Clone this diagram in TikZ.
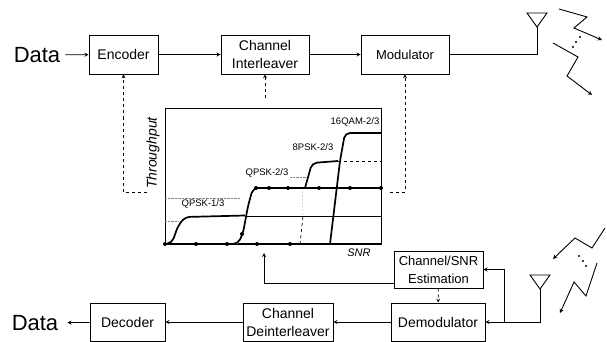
\documentclass[tikz,border=0pt]{standalone}
\usepackage{fontspec}
\setmainfont{Liberation Sans}
\usepackage{tikz}
\usetikzlibrary{arrows}

\begin{document}
\begin{tikzpicture}[
    x=1pt, y=-1pt,
    every node/.style={font=\fontsize{14}{18}\selectfont, inner sep=0pt},
    block/.style={draw, line width=0.9pt, align=center, minimum height=39pt},
    data/.style={font=\fontsize{22}{24}\selectfont},
    plotlabel/.style={font=\fontsize{9.5}{10}\selectfont},
    axislabel/.style={font=\fontsize{14}{14}\selectfont\itshape},
    arrow/.style={->, >=stealth, line width=0.8pt},
    feedback/.style={->, >=stealth, line width=0.7pt, dashed},
    antenna/.style={draw, line width=0.9pt},
    channel/.style={->, >=stealth, line width=0.9pt},
    grid line/.style={densely dotted, line width=0.4pt, gray},
    curve/.style={line width=1.7pt, rounded corners=5pt},
    mark dot/.style={circle, fill, minimum size=4pt},
]
\useasboundingbox (0,0) rectangle (607,342);
\node[data, inner xsep=5pt] (datain) at (37,55) {Data};
\node[block, minimum width=69pt] (encoder) at (123.5,54.5) {Encoder};
\node[block, minimum width=88pt] (interleaver) at (265,54.5) {Channel\\Interleaver};
\node[block, minimum width=88pt, font=\fontsize{13}{18}\selectfont] (modulator) at (405,54.5) {Modulator};
\node[block, minimum width=89pt, minimum height=37pt, font=\fontsize{13}{18}\selectfont] (estimation) at (438.5,269.5) {Channel/SNR\\Estimation};
\node[block, minimum width=94pt, minimum height=38pt] (demodulator) at (438,322) {Demodulator};
\node[block, minimum width=90pt, minimum height=38pt] (deinterleaver) at (288,322) {Channel\\Deinterleaver};
\node[block, minimum width=75pt, minimum height=38pt] (decoder) at (127.5,322) {Decoder};
\node[data, inner xsep=9pt] (dataout) at (35,323) {Data};
\node[draw, line width=0.8pt, minimum width=216pt, minimum height=136pt] (graph) at (273,176) {};
\node[axislabel, rotate=90] (throughput) at (153,153) {Throughput};
\node[axislabel, font=\fontsize{11}{14}\selectfont\itshape] (snr) at (359,253) {SNR};
\node[plotlabel] (qpska) at (203,204) {QPSK-1/3};
\node[plotlabel] (qpskb) at (267,173) {QPSK-2/3};
\node[plotlabel] (epsk) at (313,147) {8PSK-2/3};
\node[plotlabel] (qam) at (355,122) {16QAM-2/3};
% grid of the throughput plot
\draw[grid line] (165,198) -- (240,198);
\draw[grid line] (165,221) -- (178,221);
\draw[grid line] (290,177) -- (306,177);
\draw[grid line] (302,188) -- (303,216);
\draw[dashed, line width=0.5pt] (338,161) -- (381,161);
\draw[line width=0.7pt] (245,216) -- (381,216);
\draw[dashed, line width=0.7pt] (300,244) -- (303,216);
% throughput curves
\draw[curve] (165,244) -- (172,243) -- (178,226) -- (185,217) -- (245,215.5);
\draw[curve] (165,244) -- (238,244) -- (243,233) -- (248,206) -- (253,188) -- (381,188);
\draw[curve, line width=1.4pt] (238,244) -- (381,244);
\draw[curve] (305,188) -- (312,163) -- (338,161);
\draw[curve] (330,244) -- (340,161) -- (345,133) -- (381,133);
\foreach \px/\py in {165/244,196/244,227/244,256/188,269/188,288/188,319/188,350/188,381/188,242/234,257/244,290/244}
  \node[mark dot] (m\px) at (\px,\py) {};
% signal path
\draw[arrow] (datain) -- (encoder);
\draw[arrow] (encoder) -- (interleaver);
\draw[arrow] (interleaver) -- (modulator);
\draw[arrow] (demodulator) -- (deinterleaver);
\draw[arrow] (deinterleaver) -- (decoder);
\draw[arrow] (decoder) -- (dataout);
% adaptation feedback
\coordinate (fbleft) at (147,192);
\coordinate (fbmid) at (265,98);
\coordinate (fbright) at (390,192);
\coordinate (fbplot) at (264,253);
\draw[feedback] (fbleft) -| (encoder.south);
\draw[feedback] (fbmid) -- (interleaver.south);
\draw[feedback] (fbright) -| (modulator.south);
\draw[feedback] (estimation) -- (demodulator);
\draw[arrow] ([yshift=-13.5pt]estimation.west) -| (fbplot);
% antennas
\coordinate (txant) at (537,27);
\draw[antenna] (527,13) -- (547,13) -- (txant) -- cycle;
\draw[line width=0.8pt] (modulator) -- (537,54.5) -- (txant);
\coordinate (rxant) at (540,289);
\draw[antenna] (530,275) -- (550,275) -- (rxant) -- cycle;
\coordinate (rxjoin) at (504,322);
\draw[arrow] (rxant) |- (demodulator.east);
\draw[arrow] (rxjoin) |- (estimation.east);
% radio channels
\draw[channel] (559,9) -- (587,17) -- (574,28) -- (602,40);
\draw[channel] (553,43) -- (578,57) -- (567,76) -- (592,95);
\draw[channel] (605,228) -- (592,248) -- (575,238) -- (553,259);
\draw[channel] (597,263) -- (586,296) -- (574,282) -- (560,313);
\foreach \dx/\dy in {573/47,576/42,580/37,579/256,583/261,586/266}
  \fill (\dx,\dy) circle (1.2pt);
\end{tikzpicture}
\end{document}
